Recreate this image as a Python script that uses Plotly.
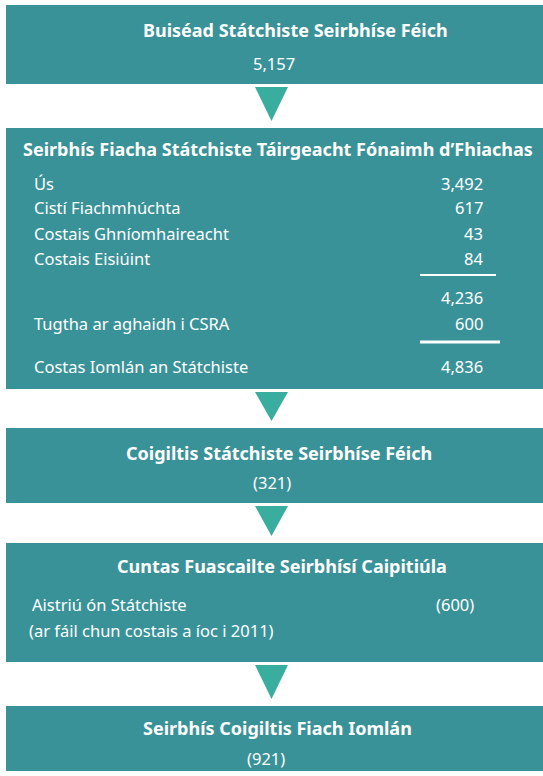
import plotly.graph_objects as go

# -- Flow of the debt service figures (EUR m)
box_titles = ["Buiséad Státchiste Seirbhíse Féich",
              "Seirbhís Fiacha Státchiste Táirgeacht Fónaimh d’Fhiachas",
              "Coigiltis Státchiste Seirbhíse Féich",
              "Cuntas Fuascailte Seirbhísí Caipitiúla",
              "Seirbhís Coigiltis Fiach Iomlán"]
box_values = ["5,157", "", "(321)", "", "(921)"]

cost_labels = ["Ús", "Cistí Fiachmhúchta", "Costais Ghníomhaireacht",
               "Costais Eisiúint", "", "Tugtha ar aghaidh i CSRA",
               "Costas Iomlán an Státchiste"]
cost_values = [3492, 617, 43, 84, 4236, 600, 4836]

transfer_label = "Aistriú ón Státchiste"
transfer_note = "(ar fáil chun costais a íoc i 2011)"
transfer_value = "(600)"

W, H = 543, 776
BOX = "#3A9299"
ARROW = "#39AE9F"
FONT = "Noto Sans"
TITLE_SIZE = 18
BODY_SIZE = 16.5

# - box extents (top, bottom) and text rows
boxes = [(5, 84), (128, 389), (428, 503), (543, 662), (706, 771)]
title_y = [30, 149, 453, 566, 728]
title_x = [295, 277.5, 279, 282, 277]
value_y = [63, None, 482, None, 758]
value_x = [273.5, None, 272, None, 266]
row_y = [183, 207, 233, 258, 297, 323, 366]

fig = go.Figure()

for top, bottom in boxes:
    fig.add_shape(type="rect", x0=6, x1=W, y0=top, y1=bottom,
                  fillcolor=BOX, line=dict(width=0), layer="below")

# -- arrows between boxes
for (t0, b0), (t1, b1) in zip(boxes[:-1], boxes[1:]):
    y0 = b0 + 3
    y1 = t1 - 7
    fig.add_shape(type="path",
                  path=f"M 255 {y0} L 288 {y0} L 271.5 {y1} Z",
                  fillcolor=ARROW, line=dict(width=0), layer="below")

for i, title in enumerate(box_titles):
    fig.add_annotation(x=title_x[i], y=title_y[i], text=f"<b>{title}</b>",
                       showarrow=False, xanchor="center", yanchor="middle",
                       font=dict(family=FONT, size=TITLE_SIZE, color="white"))
    if box_values[i]:
        fig.add_annotation(x=value_x[i], y=value_y[i], text=box_values[i],
                           showarrow=False, xanchor="center", yanchor="middle",
                           font=dict(family=FONT, size=BODY_SIZE, color="white"))

for lab, val, y in zip(cost_labels, cost_values, row_y):
    if lab:
        fig.add_annotation(x=32, y=y, text=lab, showarrow=False,
                           xanchor="left", yanchor="middle",
                           font=dict(family=FONT, size=BODY_SIZE, color="white"))
    fig.add_annotation(x=485, y=y, text=f"{val:,}", showarrow=False,
                       xanchor="right", yanchor="middle",
                       font=dict(family=FONT, size=BODY_SIZE, color="white"))

# - sum lines
fig.add_shape(type="line", x0=420, x1=496, y0=275, y1=275,
              line=dict(color="white", width=2))
fig.add_shape(type="line", x0=420, x1=500, y0=342, y1=342,
              line=dict(color="white", width=3))

fig.add_annotation(x=30, y=604, text=transfer_label, showarrow=False,
                   xanchor="left", yanchor="middle",
                   font=dict(family=FONT, size=BODY_SIZE, color="white"))
fig.add_annotation(x=476, y=604, text=transfer_value, showarrow=False,
                   xanchor="right", yanchor="middle",
                   font=dict(family=FONT, size=BODY_SIZE, color="white"))
fig.add_annotation(x=27, y=630, text=transfer_note, showarrow=False,
                   xanchor="left", yanchor="middle",
                   font=dict(family=FONT, size=BODY_SIZE, color="white"))

fig.update_layout(width=W, height=H, margin=dict(l=0, r=0, t=0, b=0),
                  paper_bgcolor="white", plot_bgcolor="white",
                  showlegend=False)
fig.update_xaxes(range=[0, W], visible=False, fixedrange=True)
fig.update_yaxes(range=[H, 0], visible=False, fixedrange=True)

fig.write_html("out.html", config={"displayModeBar": False},
               post_script="document.body.style.margin='0';"
                           "document.body.style.overflow='hidden';")
